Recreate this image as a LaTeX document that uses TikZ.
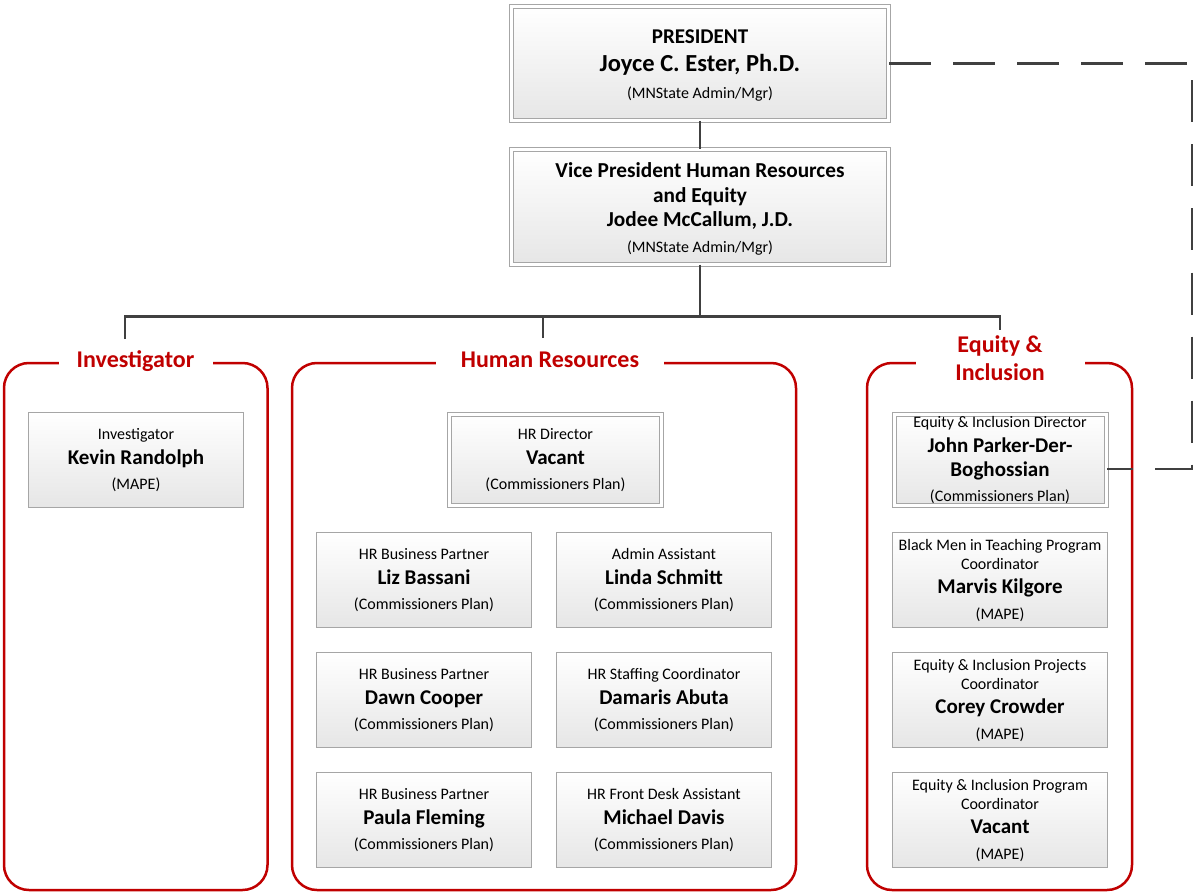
\documentclass[tikz,border=0pt]{standalone}
\usepackage{fontspec}
\setmainfont{Carlito}
\usetikzlibrary{calc}

\definecolor{frameRed}{HTML}{C00000}
\definecolor{linkGrey}{HTML}{404040}
\definecolor{cardEdge}{HTML}{A6A6A6}
\definecolor{cardLow}{HTML}{E6E6E6}

% text lines inside the position boxes
\newcommand\roleline[1]{{\fontsize{16}{19}\selectfont\vphantom{(}#1}}
\newcommand\nameline[1]{{\fontsize{21}{19}\selectfont\bfseries #1}}
\newcommand\planline[1]{{\fontsize{16}{19}\selectfont #1}}
\newcommand\headline[2]{{\fontsize{#1}{19}\selectfont\bfseries #2}}

\tikzset{
  card/.style={draw=cardEdge, line width=0.9pt, top color=white, bottom color=cardLow,
    minimum width=215pt, minimum height=95pt, inner sep=0pt, align=center,
    font=\fontsize{16}{19}\selectfont},
  leadcard/.style={card, double=white, double distance=3pt, line width=1pt,
    minimum width=212pt, minimum height=91pt},
  topcard/.style={leadcard, minimum width=377pt},
  grouptitle/.style={fill=white, text=frameRed, inner xsep=0pt, inner ysep=2pt,
    align=center, font=\fontsize{24}{28}\selectfont\bfseries},
  groupframe/.style={draw=frameRed, line width=2.5pt, rounded corners=25pt},
  link/.style={draw=linkGrey, line width=2.5pt},
  dottedlink/.style={draw=linkGrey, line width=2.5pt, dash pattern=on 42pt off 22pt},
}

\begin{document}
\begin{tikzpicture}[x=1pt, y=-1pt]
  \useasboundingbox (0,0) rectangle (1193,893);

  % ---- group frames ----
  \draw[groupframe] (4,363) rectangle (267.5,890);
  \draw[groupframe] (292,363) rectangle (796,890);
  \draw[groupframe] (867,363) rectangle (1132,890);

  \node[grouptitle, minimum width=154pt, anchor=base] (invtitle) at (135.5,367.5) {Investigator};
  \node[grouptitle, minimum width=228pt, anchor=base] (hrtitle) at (550,367.5) {Human Resources};
  \node[grouptitle, minimum width=169pt, anchor=base] (eititle) at (1000,380.5) {Equity \&\\Inclusion};

  % ---- leadership ----
  \node[topcard, minimum height=114pt, font=\fontsize{16}{28}\selectfont] (pres) at (700,63.5)
    {\rule{0pt}{18pt}\headline{21}{PRESIDENT}\\\headline{24.5}{Joyce C. Ester, Ph.D.}\\[-0.7pt]\planline{(MNState Admin/Mgr)}};
  \node[topcard, minimum height=114pt, font=\fontsize{16}{24}\selectfont] (vp) at (700,207)
    {\rule{0pt}{19pt}\headline{21.3}{Vice President Human Resources}\\[1pt]\headline{21.3}{and Equity}\\\headline{21.3}{Jodee McCallum, J.D.}\\[2.4pt]\planline{(MNState Admin/Mgr)}};

  % ---- investigator ----
  \node[card] (inv) at (136,460)
    {\roleline{Investigator}\\[5.5pt]\nameline{Kevin Randolph}\\[6.5pt]\planline{(MAPE)}};

  % ---- human resources ----
  \node[leadcard] (hrdir) at (555.5,460)
    {\roleline{HR Director}\\[5.5pt]\nameline{Vacant}\\[6.5pt]\planline{(Commissioners Plan)}};
  \node[card] (hrbp1) at (424,580)
    {\roleline{HR Business Partner}\\[5.5pt]\nameline{Liz Bassani}\\[6.5pt]\planline{(Commissioners Plan)}};
  \node[card] (admin) at (664,580)
    {\roleline{Admin Assistant}\\[5.5pt]\nameline{Linda Schmitt}\\[6.5pt]\planline{(Commissioners Plan)}};
  \node[card] (hrbp2) at (424,700)
    {\roleline{HR Business Partner}\\[5.5pt]\nameline{Dawn Cooper}\\[6.5pt]\planline{(Commissioners Plan)}};
  \node[card] (staff) at (664,700)
    {\roleline{HR Staffing Coordinator}\\[5.5pt]\nameline{Damaris Abuta}\\[6.5pt]\planline{(Commissioners Plan)}};
  \node[card] (hrbp3) at (424,820)
    {\roleline{HR Business Partner}\\[5.5pt]\nameline{Paula Fleming}\\[6.5pt]\planline{(Commissioners Plan)}};
  \node[card] (desk) at (664,820)
    {\roleline{HR Front Desk Assistant}\\[5.5pt]\nameline{Michael Davis}\\[6.5pt]\planline{(Commissioners Plan)}};

  % ---- equity & inclusion ----
  \node[leadcard] (eidir) at (1000,460)
    {\roleline{Equity \& Inclusion Director}\\[5.6pt]\nameline{John Parker-Der-}\\[5pt]\nameline{Boghossian}\\[6.3pt]\planline{(Commissioners Plan)}};
  \node[card] (bmit) at (1000,580)
    {\roleline{Black Men in Teaching Program}\\\roleline{Coordinator}\\[5.6pt]\nameline{Marvis Kilgore}\\[6.3pt]\planline{(MAPE)}};
  \node[card] (eiproj) at (1000,700)
    {\roleline{Equity \& Inclusion Projects}\\\roleline{Coordinator}\\[5.6pt]\nameline{Corey Crowder}\\[6.3pt]\planline{(MAPE)}};
  \node[card] (eiprog) at (1000,820)
    {\roleline{Equity \& Inclusion Program}\\\roleline{Coordinator}\\[5.6pt]\nameline{Vacant}\\[6.3pt]\planline{(MAPE)}};

  % ---- reporting lines ----
  \coordinate (bus) at (700,316.5);
  \coordinate (invtap) at (125,339);
  \coordinate (hrtap) at (543,338);
  \coordinate (eitap) at (1000,330);
  \coordinate (dashturn) at (1192,469);

  \draw[link] (pres) -- (vp);
  \draw[link] (vp.south) -- (bus);
  \draw[link] (invtap) -- (invtap |- bus) -- (eitap |- bus) -- (eitap);
  \draw[link] (hrtap) -- (hrtap |- bus);
  \draw[dottedlink] (pres.east) -| (dashturn) -- ($(eidir.east)+(0,9)$);
\end{tikzpicture}
\end{document}
